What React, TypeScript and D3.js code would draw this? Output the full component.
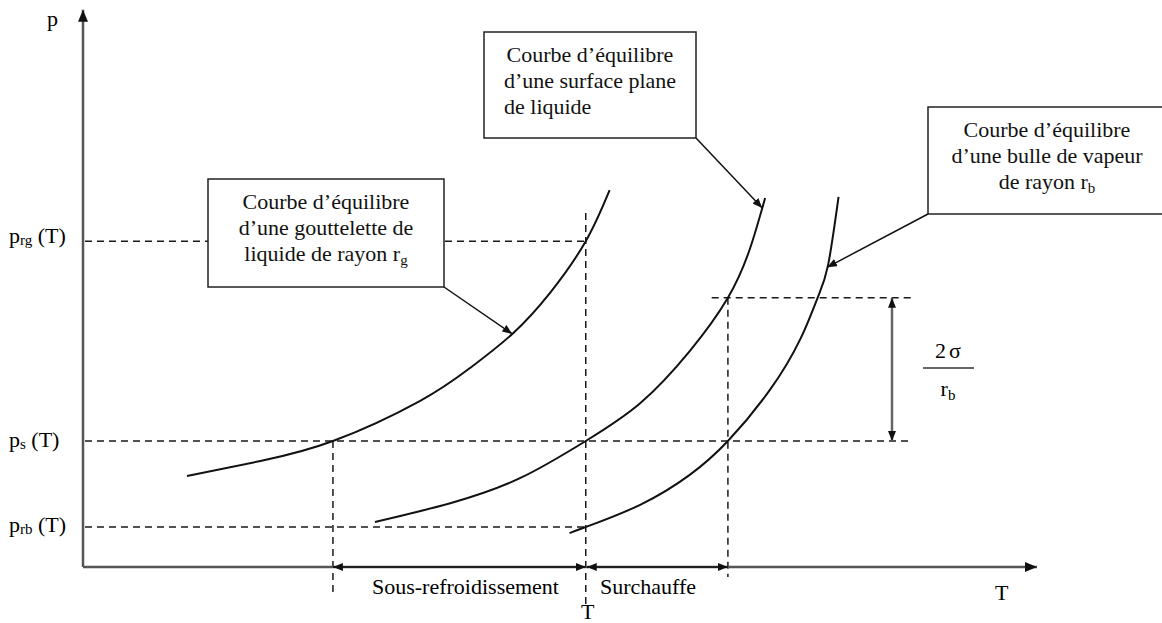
import React from 'react';
import * as d3 from 'd3';

const WIDTH = 1162;
const HEIGHT = 623;
const FONT = "'Liberation Serif', 'Times New Roman', serif";

// Saturation curves as [temperature, pressure] pairs (arbitrary units, 0–100)
const dropletCurve: [number, number][] = [
  [10.9, 16.4], [18.6, 19.1], [26.2, 22.7], [35.3, 29.9], [40.6, 35.9],
  [45.0, 42.0], [49.0, 49.5], [52.7, 58.7], [55.2, 67.9],
];
const flatCurve: [number, number][] = [
  [30.6, 8.1], [38.5, 11.5], [45.8, 16.0], [52.7, 22.7], [58.4, 29.5],
  [63.6, 38.9], [67.6, 48.5], [69.9, 57.3], [71.5, 66.5],
];
const bubbleCurve: [number, number][] = [
  [51.0, 6.1], [52.7, 7.2], [58.4, 11.2], [63.6, 16.6], [67.6, 22.7],
  [72.0, 31.9], [75.2, 41.1], [77.0, 48.5], [78.1, 54.4], [79.2, 66.7],
];

// Pressure levels read on the p axis
const levelSubs = ['rg', 's', 'rb'];
const levelValues = [58.7, 22.7, 7.2];
const P_BUBBLE_TOP = 48.5;

// Temperatures marked on the T axis
const T_SUB = 26.2;
const T_SAT = 52.7;
const T_SUP = 67.6;
const T_SIGMA = 84.8;
const T_DASH_END = 86.9;

// Points on each curve the callouts point to
const dropletAnchor: [number, number] = [45.0, 42.0];
const flatAnchor: [number, number] = [71.2, 64.7];
const bubbleAnchor: [number, number] = [78.0, 54.0];

const intervalLabels = ['Sous-refroidissement', 'Surchauffe'];

type Seg = { t: string; sub?: boolean };

export default function App() {
  const x = d3.scaleLinear().domain([0, 100]).range([83, 1037]);
  const y = d3.scaleLinear().domain([0, 100]).range([567, 12]);

  const line = d3
    .line<[number, number]>()
    .x((d) => x(d[0]))
    .y((d) => y(d[1]))
    .curve(d3.curveNatural);

  const dash = { stroke: '#1a1a1a', strokeWidth: 1.5, strokeDasharray: '7 5', fill: 'none' };

  const boxes: {
    x: number; y: number; w: number; h: number; corner: [number, number];
    anchor: [number, number]; align: ('middle' | 'start')[]; lines: Seg[][];
  }[] = [
    {
      x: 208, y: 179, w: 236, h: 108, corner: [444, 287], anchor: dropletAnchor,
      align: ['middle', 'middle', 'middle'],
      lines: [
        [{ t: 'Courbe d’équilibre' }],
        [{ t: 'd’une gouttelette de' }],
        [{ t: 'liquide de rayon r' }, { t: 'g', sub: true }],
      ],
    },
    {
      x: 484, y: 32, w: 212, h: 106, corner: [696, 138], anchor: flatAnchor,
      align: ['middle', 'middle', 'start'],
      lines: [
        [{ t: 'Courbe d’équilibre' }],
        [{ t: 'd’une surface plane' }],
        [{ t: 'de liquide' }],
      ],
    },
    {
      x: 928, y: 107, w: 238, h: 107, corner: [928, 214], anchor: bubbleAnchor,
      align: ['middle', 'middle', 'middle'],
      lines: [
        [{ t: 'Courbe d’équilibre' }],
        [{ t: 'd’une bulle de vapeur' }],
        [{ t: 'de rayon r' }, { t: 'b', sub: true }],
      ],
    },
  ];

  const renderSegs = (segs: Seg[]) =>
    segs.map((s, i) =>
      s.sub ? (
        <tspan key={i} fontSize={15} dy={4}>{s.t}</tspan>
      ) : (
        <tspan key={i}>{s.t}</tspan>
      )
    );

  const levelEnds = [T_SAT, T_DASH_END, T_SAT];
  const levelBaselineShift = [2, 6, 5];

  return (
    <svg
      width={WIDTH}
      height={HEIGHT}
      style={{ position: 'absolute', left: 0, top: 0, background: '#fff' }}
      fontFamily={FONT}
    >
      <defs>
        <marker id="axisHead" viewBox="0 0 12 10" refX="12" refY="5" markerWidth="12" markerHeight="10"
          markerUnits="userSpaceOnUse" orient="auto-start-reverse">
          <path d="M0,0L12,5L0,10z" fill="#111" />
        </marker>
        <marker id="head" viewBox="0 0 10 8" refX="10" refY="4" markerWidth="10" markerHeight="8"
          markerUnits="userSpaceOnUse" orient="auto-start-reverse">
          <path d="M0,0L10,4L0,8z" fill="#111" />
        </marker>
      </defs>

      {/* dashed reference levels */}
      {levelValues.map((v, i) => (
        <line key={`h${i}`} x1={x(0) + 2} x2={x(levelEnds[i])} y1={y(v)} y2={y(v)} {...dash} />
      ))}
      <line x1={x(65.9)} x2={x(T_DASH_END)} y1={y(P_BUBBLE_TOP)} y2={y(P_BUBBLE_TOP)} {...dash} />
      <line x1={x(T_SUB)} x2={x(T_SUB)} y1={y(levelValues[1])} y2={y(-4.5)} {...dash} />
      <line x1={x(T_SAT)} x2={x(T_SAT)} y1={y(63.8)} y2={y(-6.8)} {...dash} />
      <line x1={x(T_SUP)} x2={x(T_SUP)} y1={y(P_BUBBLE_TOP)} y2={y(-1.8)} {...dash} />

      {/* saturation curves */}
      {[dropletCurve, flatCurve, bubbleCurve].map((c, i) => (
        <path key={`c${i}`} d={line(c) || ''} fill="none" stroke="#111" strokeWidth={2} />
      ))}

      {/* axes */}
      <line x1={x(0)} y1={y(0)} x2={x(0)} y2={y(100.4)} stroke="#555" strokeWidth={2.5} markerEnd="url(#axisHead)" />
      <line x1={x(0)} y1={y(0)} x2={x(100)} y2={y(0)} stroke="#555" strokeWidth={2.5} markerEnd="url(#axisHead)" />
      <text x={47} y={26} fontSize={22}>p</text>
      <text x={x(96.3)} y={600} fontSize={22} textAnchor="middle">T</text>
      <text x={x(T_SAT) + 2} y={619} fontSize={22} textAnchor="middle">T</text>

      {/* pressure level labels */}
      {levelValues.map((v, i) => (
        <text key={`l${i}`} x={9} y={y(v) + levelBaselineShift[i]} fontSize={22}>
          <tspan>p</tspan>
          <tspan fontSize={15} dy={2}>{levelSubs[i]}</tspan>
          <tspan dy={-2}> (T)</tspan>
        </text>
      ))}

      {/* temperature intervals on the T axis */}
      <line x1={x(T_SUB)} x2={x(T_SAT)} y1={y(0)} y2={y(0)} stroke="#111" strokeWidth={1.5}
        markerStart="url(#head)" markerEnd="url(#head)" />
      <line x1={x(T_SAT) + 1} x2={x(T_SUP)} y1={y(0)} y2={y(0)} stroke="#111" strokeWidth={1.5}
        markerStart="url(#head)" markerEnd="url(#head)" />
      <text x={372} y={594} fontSize={22}>{intervalLabels[0]}</text>
      <text x={600} y={594} fontSize={22}>{intervalLabels[1]}</text>

      {/* 2σ / r_b overpressure */}
      <line x1={x(T_SIGMA)} x2={x(T_SIGMA)} y1={y(P_BUBBLE_TOP)} y2={y(levelValues[1])}
        stroke="#666" strokeWidth={2.5} markerStart="url(#head)" markerEnd="url(#head)" />
      <text x={948} y={358} fontSize={22} textAnchor="middle">
        <tspan>2</tspan><tspan dx={3}>σ</tspan>
      </text>
      <line x1={923} x2={974} y1={368} y2={368} stroke="#333" strokeWidth={1.5} />
      <text x={948} y={396} fontSize={22} textAnchor="middle">
        <tspan>r</tspan><tspan fontSize={15} dy={4}>b</tspan>
      </text>

      {/* callout boxes */}
      {boxes.map((b, i) => {
        const lineStart = b.x + (b.w - 172) / 2;
        return (
          <g key={`b${i}`}>
            <rect x={b.x} y={b.y} width={b.w} height={b.h} fill="#fff" stroke="#222" strokeWidth={1.5} />
            {b.lines.map((segs, j) => (
              <text key={j} x={b.align[j] === 'middle' ? b.x + b.w / 2 : lineStart}
                y={b.y + 30 + j * 26} fontSize={22} textAnchor={b.align[j]} fill="#111">
                {renderSegs(segs)}
              </text>
            ))}
            <line x1={b.corner[0]} y1={b.corner[1]} x2={x(b.anchor[0])} y2={y(b.anchor[1])}
              stroke="#111" strokeWidth={1.5} markerEnd="url(#head)" />
          </g>
        );
      })}
    </svg>
  );
}
